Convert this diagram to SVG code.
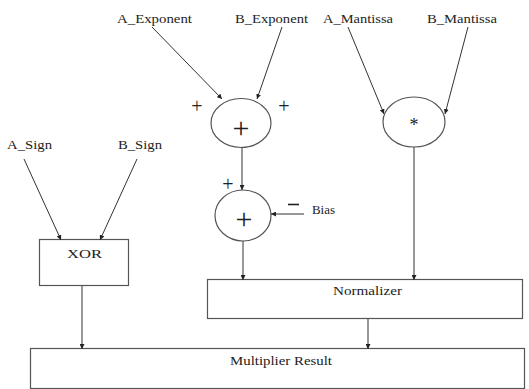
<svg xmlns="http://www.w3.org/2000/svg" width="529" height="389" viewBox="0 0 529 389">
<style>
text{font-family:"Liberation Serif","DejaVu Serif","Times New Roman",serif;fill:#222}
.lbl{font-size:12.5px}
.op{font-size:30px;text-anchor:middle}
.sm{font-size:20px;text-anchor:middle}
.box{fill:#fff;stroke:#555;stroke-width:1.2}
.ell{fill:#fff;stroke:#555;stroke-width:1.2}
.c{stroke:#333;stroke-width:1;fill:none;marker-end:url(#ah)}
</style>
<defs>
<marker id="ah" viewBox="0 0 10 10" refX="10" refY="5" markerWidth="5" markerHeight="5" orient="auto" markerUnits="userSpaceOnUse">
<path d="M0,0 L10,5 L0,10 z" fill="#222"/>
</marker>
</defs>
<rect width="529" height="389" fill="#fff"/>
<g id="labels">
<text class="lbl" x="117" y="23" textLength="75" lengthAdjust="spacingAndGlyphs">A_Exponent</text>
<text class="lbl" x="235" y="23" textLength="73" lengthAdjust="spacingAndGlyphs">B_Exponent</text>
<text class="lbl" x="323" y="23" textLength="70" lengthAdjust="spacingAndGlyphs">A_Mantissa</text>
<text class="lbl" x="427" y="23" textLength="70" lengthAdjust="spacingAndGlyphs">B_Mantissa</text>
<text class="lbl" x="7" y="149" textLength="45" lengthAdjust="spacingAndGlyphs">A_Sign</text>
<text class="lbl" x="118" y="149" textLength="44" lengthAdjust="spacingAndGlyphs">B_Sign</text>
<text class="lbl" x="312" y="214" textLength="23" lengthAdjust="spacingAndGlyphs">Bias</text>
<text class="sm" x="197" y="113">+</text>
<text class="sm" x="284" y="113">+</text>
<text class="sm" x="228" y="191">+</text>
<line x1="288" y1="204.5" x2="299" y2="204.5" stroke="#222" stroke-width="1.6"/>
</g>
<g id="adder1">
<ellipse class="ell" cx="241" cy="123" rx="30" ry="24.5"/>
<text class="op" x="241" y="138">+</text>
</g>
<g id="mult">
<ellipse class="ell" cx="414" cy="122" rx="31" ry="25"/>
<text class="lbl" x="414" y="131" text-anchor="middle" style="font-size:18px">*</text>
</g>
<g id="adder2">
<ellipse class="ell" cx="243" cy="215.5" rx="28" ry="25.5"/>
<text class="op" x="244" y="229">+</text>
</g>
<g id="xor">
<rect class="box" x="39.5" y="239.5" width="89" height="46"/>
<text class="lbl" x="67" y="258" textLength="35" lengthAdjust="spacingAndGlyphs">XOR</text>
</g>
<g id="normalizer">
<rect class="box" x="207.5" y="279.5" width="315" height="39"/>
<text class="lbl" x="333" y="295" textLength="69" lengthAdjust="spacingAndGlyphs">Normalizer</text>
</g>
<g id="result">
<rect class="box" x="30.5" y="348.5" width="494" height="40"/>
<text class="lbl" x="230" y="365" textLength="102" lengthAdjust="spacingAndGlyphs">Multiplier Result</text>
</g>
<g id="connectors">
<line class="c" x1="152" y1="27" x2="222" y2="99"/>
<line class="c" x1="282" y1="27" x2="257" y2="99"/>
<line class="c" x1="348" y1="27" x2="384" y2="114"/>
<line class="c" x1="468" y1="27" x2="445" y2="114"/>
<line class="c" x1="24" y1="159" x2="61" y2="240"/>
<line class="c" x1="137" y1="159" x2="100" y2="240"/>
<line class="c" x1="242" y1="147.5" x2="242" y2="190"/>
<line class="c" x1="304" y1="214" x2="271" y2="214"/>
<line class="c" x1="243" y1="241" x2="243" y2="280"/>
<line class="c" x1="414" y1="147" x2="414" y2="280"/>
<line class="c" x1="82" y1="286" x2="82" y2="349"/>
<line class="c" x1="368" y1="319" x2="368" y2="349"/>
</g>
</svg>
